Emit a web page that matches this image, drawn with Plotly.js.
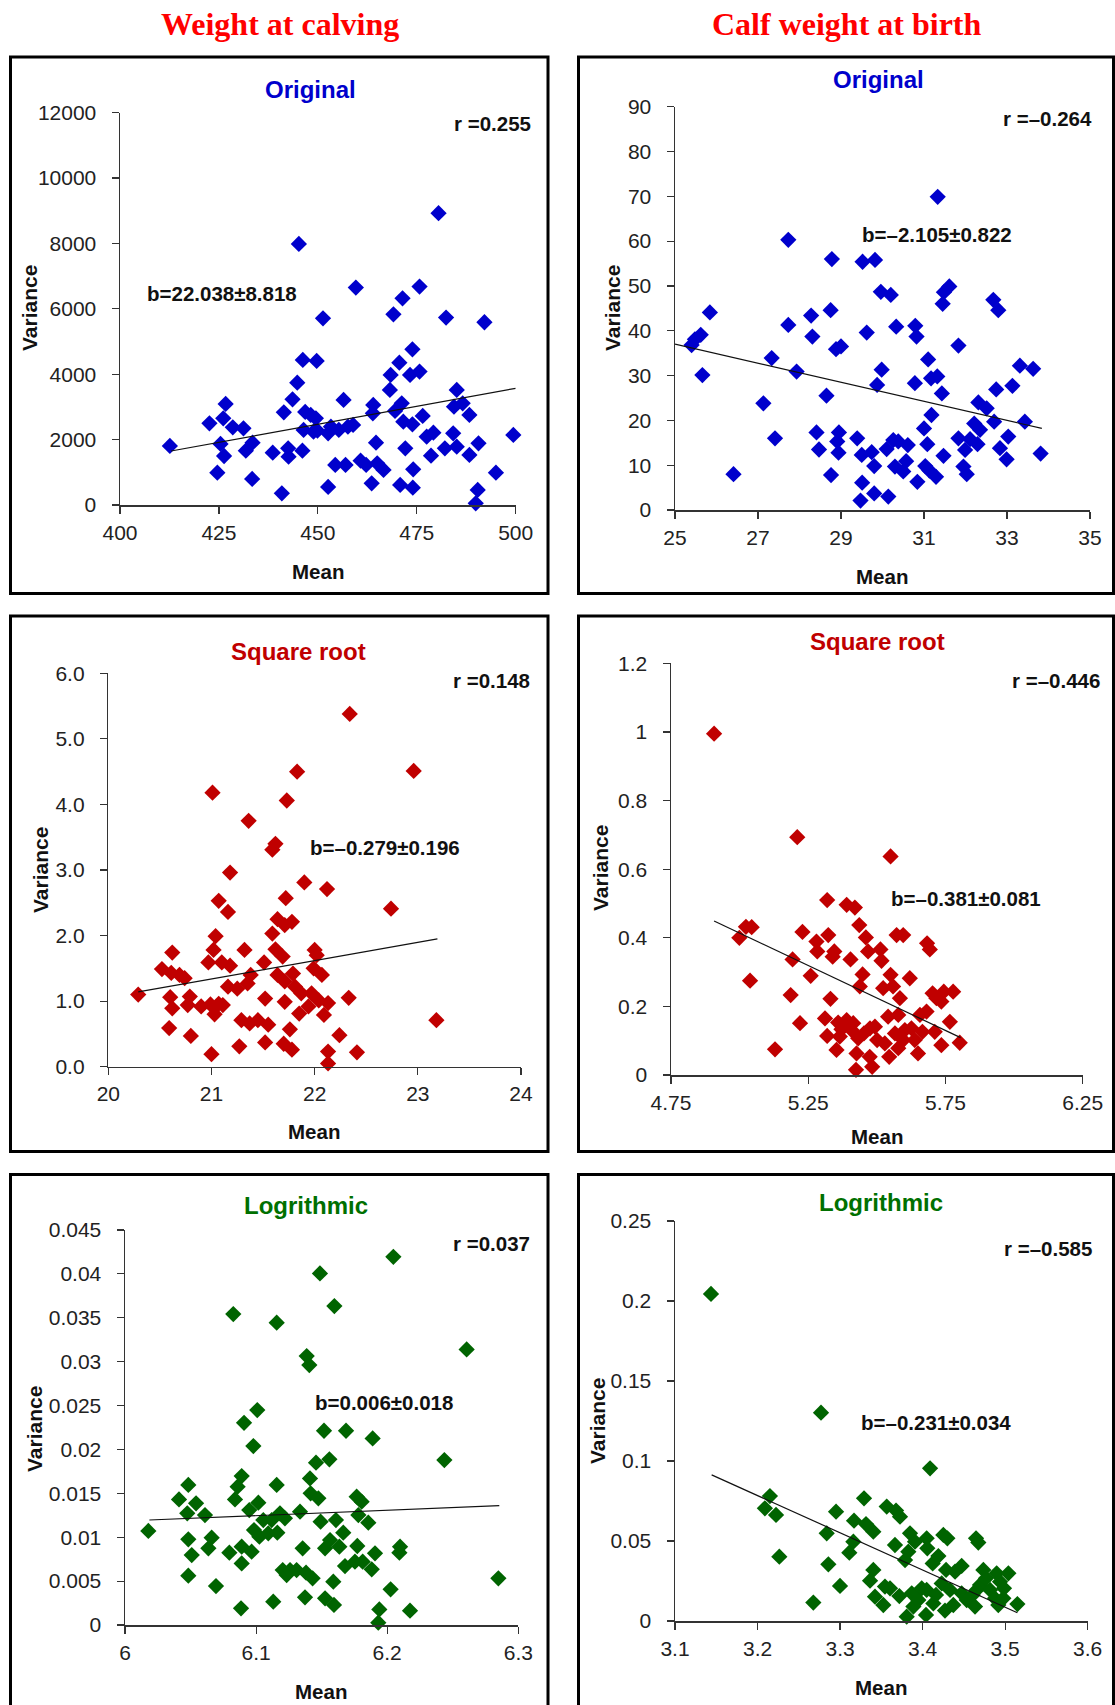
<!DOCTYPE html>
<html>
<head>
<meta charset="utf-8">
<script src="https://cdn.plot.ly/plotly-3.0.1.min.js"></script>
<style>html,body{margin:0;padding:0;background:#fff;}#chart{width:1115px;height:1705px;}</style>
</head>
<body>
<div id="chart"></div>
<script>
// ---------- DATA ----------
const columnTitles = ["Weight at calving", "Calf weight at birth"];
const panelTitles = ["Original", "Original", "Square root", "Square root", "Logrithmic", "Logrithmic"];
const rLabels = ["r =0.255", "r =\u20130.264", "r =0.148", "r =\u20130.446", "r =0.037", "r =\u20130.585"];
const bLabels = ["b=22.038\u00b18.818", "b=\u20132.105\u00b10.822", "b=\u20130.279\u00b10.196", "b=\u20130.381\u00b10.081", "b=0.006\u00b10.018", "b=\u20130.231\u00b10.034"];
const xTitle = "Mean";
const yTitle = "Variance";

// Panel 1: Weight at calving, original
const p1Mean = [412.6,422.6,424.6,425.4,426.3,426.7,426.1,428.5,431.2,431.8,433.5,433.4,438.6,440.9,441.4,442.5,442.6,443.6,444.8,445.2,446.1,446.2,446.8,446.4,448.2,449.7,449.5,448.9,449.9,451.3,452.6,452.6,453.3,454.4,455.3,456.5,457.0,457.6,458.9,459.6,460.8,462.2,463.6,464.0,463.9,464.7,465.0,466.6,468.2,468.4,469.1,469.5,470.8,470.6,471.2,471.4,471.6,472.1,473.3,473.9,473.9,474.1,474.0,475.7,475.7,476.5,477.5,478.6,479.2,480.5,482.4,482.1,484.2,484.4,485.1,485.1,486.6,488.3,488.3,490.6,490.4,489.9,492.1,495.0,499.4];
const p1Var = [1805,2499,989,1867,1499,3090,2652,2377,2346,1663,1907,796,1601,357,2836,1734,1479,3233,3743,7987,1663,4437,2846,2295,2754,4406,2652,2244,2275,5712,551,2193,2397,1224,2295,3213,1224,2397,2448,6650,1357,1224,663,3060,2805,1907,1275,1071,3519,3978,5834,2876,612,4355,3111,6324,2550,1734,3978,4763,2468,1091,530,4080,6681,2723,2091,1510,2213,8925,5732,1734,2193,3009,3519,1785,3111,2754,1530,1887,459,51,5590,989,2142];
const p1FitMean = [412.9, 500];
const p1FitVar = [1652, 3570];
const p1XTicks = [400, 425, 450, 475, 500];
const p1XText = ["400", "425", "450", "475", "500"];
const p1YTicks = [0, 2000, 4000, 6000, 8000, 10000, 12000];
const p1YText = ["0", "2000", "4000", "6000", "8000", "10000", "12000"];

// Panel 2: Calf weight at birth, original
const p2Mean = [25.40,25.48,25.62,25.66,25.84,26.41,27.13,27.33,27.41,27.73,27.73,27.93,28.28,28.31,28.41,28.47,28.65,28.75,28.78,28.76,28.88,29.00,28.95,28.91,28.94,29.39,29.50,29.52,29.51,29.47,29.62,29.74,29.80,29.82,29.80,29.87,29.98,29.96,30.10,30.14,30.20,30.26,30.30,30.33,30.38,30.50,30.57,30.61,30.78,30.79,30.82,30.84,31.00,31.03,31.08,31.10,31.13,31.17,31.18,31.33,31.32,31.29,31.43,31.45,31.48,31.61,31.47,31.83,31.83,31.95,32.03,31.99,32.11,32.21,32.29,32.31,32.35,32.51,32.69,32.67,32.79,32.74,32.83,32.99,33.03,33.13,33.31,33.43,33.63,33.81];
const p2Var = [36.8,38.1,39.1,30.1,44.1,8.0,23.8,33.9,16.0,60.3,41.3,30.9,43.4,38.7,17.3,13.5,25.5,44.6,56.0,7.8,35.9,36.5,17.3,15.3,12.8,16.0,12.3,55.4,6.1,2.1,39.6,12.9,9.8,55.8,3.7,27.9,31.3,48.7,13.6,3.0,48.0,15.6,9.7,40.9,15.3,8.6,10.9,14.5,28.3,41.1,38.7,6.3,18.2,9.8,14.7,33.6,8.8,29.4,21.2,69.9,29.8,7.4,26.0,46.0,48.6,49.9,12.1,36.7,16.0,9.7,8.0,13.4,15.8,19.3,14.7,24.0,17.9,22.7,19.7,46.9,44.6,26.9,13.8,11.3,16.4,27.7,32.2,19.7,31.5,12.6];
const p2FitMean = [25.0, 33.84];
const p2FitVar = [37.0, 18.2];
const p2XTicks = [25, 27, 29, 31, 33, 35];
const p2XText = ["25", "27", "29", "31", "33", "35"];
const p2YTicks = [0, 10, 20, 30, 40, 50, 60, 70, 80, 90];
const p2YText = ["0", "10", "20", "30", "40", "50", "60", "70", "80", "90"];

// Panel 3: Weight at calving, square root
const p3Mean = [20.29,20.52,20.59,20.60,20.62,20.61,20.62,20.69,20.74,20.77,20.79,20.80,20.90,20.97,20.99,21.00,21.01,21.02,21.04,21.03,21.07,21.07,21.10,21.11,21.16,21.18,21.18,21.16,21.25,21.27,21.29,21.32,21.35,21.36,21.37,21.38,21.45,21.52,21.52,21.51,21.55,21.59,21.62,21.59,21.62,21.64,21.64,21.69,21.71,21.71,21.70,21.71,21.73,21.72,21.76,21.78,21.78,21.79,21.81,21.83,21.85,21.87,21.90,21.94,21.97,21.99,22.00,22.02,22.04,22.07,22.09,22.12,22.13,22.13,22.13,22.24,22.33,22.34,22.41,22.74,22.96,23.18];
const p3Var = [1.10,1.49,0.59,1.06,1.74,1.43,0.89,1.40,1.35,0.94,1.07,0.47,0.92,1.59,0.95,0.19,4.18,1.78,1.99,0.80,0.96,2.53,1.59,0.94,2.36,2.96,1.54,1.22,1.19,0.31,0.71,1.78,1.27,3.75,0.66,1.40,0.71,0.37,1.04,1.59,0.64,3.31,3.40,2.03,1.79,2.25,1.40,1.68,0.99,1.30,0.35,2.16,4.06,2.57,0.57,2.21,0.26,1.42,1.22,4.50,0.81,1.12,2.81,0.92,1.12,1.50,1.78,1.70,1.01,1.40,0.79,2.71,0.97,0.23,0.05,0.48,1.05,5.38,0.22,2.41,4.51,0.71];
const p3FitMean = [20.29, 23.19];
const p3FitVar = [1.14, 1.95];
const p3XTicks = [20, 21, 22, 23, 24];
const p3XText = ["20", "21", "22", "23", "24"];
const p3YTicks = [0, 1, 2, 3, 4, 5, 6];
const p3YText = ["0.0", "1.0", "2.0", "3.0", "4.0", "5.0", "6.0"];

// Panel 4: Calf weight at birth, square root
const p4Mean = [4.907,4.999,5.023,5.044,5.038,5.129,5.186,5.193,5.210,5.220,5.229,5.259,5.280,5.283,5.311,5.319,5.319,5.323,5.331,5.339,5.345,5.353,5.359,5.371,5.390,5.404,5.408,5.420,5.424,5.426,5.432,5.436,5.438,5.448,5.453,5.460,5.468,5.475,5.483,5.493,5.501,5.513,5.517,5.523,5.529,5.541,5.545,5.550,5.550,5.559,5.566,5.572,5.578,5.578,5.584,5.596,5.596,5.620,5.626,5.638,5.650,5.657,5.666,5.681,5.683,5.693,5.703,5.711,5.717,5.735,5.735,5.744,5.766,5.778,5.802,5.390,5.414,5.365,5.474,5.602];
const p4Var = [0.995,0.400,0.432,0.431,0.275,0.075,0.233,0.337,0.693,0.151,0.417,0.289,0.389,0.360,0.165,0.114,0.510,0.408,0.222,0.345,0.360,0.073,0.153,0.133,0.496,0.337,0.131,0.488,0.015,0.063,0.107,0.437,0.258,0.293,0.121,0.401,0.360,0.136,0.024,0.141,0.102,0.366,0.333,0.253,0.092,0.170,0.053,0.637,0.292,0.258,0.121,0.408,0.175,0.078,0.224,0.408,0.102,0.282,0.136,0.102,0.063,0.175,0.126,0.185,0.384,0.366,0.238,0.126,0.224,0.214,0.087,0.243,0.155,0.243,0.094,0.160,0.151,0.112,0.053,0.131];
const p4FitMean = [4.907, 5.805];
const p4FitVar = [0.449, 0.109];
const p4XTicks = [4.75, 5.25, 5.75, 6.25];
const p4XText = ["4.75", "5.25", "5.75", "6.25"];
const p4YTicks = [0, 0.2, 0.4, 0.6, 0.8, 1, 1.2];
const p4YText = ["0", "0.2", "0.4", "0.6", "0.8", "1", "1.2"];

// Panel 5: Weight at calving, logarithmic
const p5Mean = [6.0178,6.0412,6.0483,6.0475,6.0483,6.0509,6.0483,6.0542,6.0610,6.0636,6.0661,6.0694,6.0796,6.0826,6.0839,6.0859,6.0890,6.0890,6.0890,6.0885,6.0908,6.0948,6.0966,6.0979,6.0984,6.1009,6.1017,6.1025,6.1055,6.1093,6.1119,6.1131,6.1157,6.1157,6.1162,6.1182,6.1203,6.1220,6.1233,6.1259,6.1309,6.1335,6.1355,6.1373,6.1386,6.1406,6.1381,6.1411,6.1416,6.1431,6.1457,6.1475,6.1487,6.1492,6.1518,6.1526,6.1526,6.1559,6.1564,6.1589,6.1594,6.1597,6.1609,6.1635,6.1665,6.1678,6.1686,6.1754,6.1767,6.1772,6.1780,6.1805,6.1813,6.1856,6.1882,6.1889,6.1907,6.1932,6.1940,6.2026,6.2047,6.2093,6.2098,6.2174,6.2436,6.2606,6.2848];
const p5Var = [0.01071,0.01431,0.01595,0.01272,0.00976,0.00797,0.00562,0.01386,0.01253,0.00873,0.00995,0.00444,0.00824,0.03542,0.01431,0.01576,0.01697,0.00892,0.00702,0.00190,0.02304,0.01310,0.00835,0.02039,0.01082,0.02449,0.01393,0.01006,0.01196,0.01044,0.01196,0.00266,0.01595,0.03444,0.01052,0.01272,0.00626,0.01215,0.00569,0.00626,0.00626,0.01291,0.00873,0.00315,0.03064,0.02961,0.00596,0.01670,0.01500,0.00532,0.01849,0.01443,0.04005,0.01177,0.02213,0.00873,0.00304,0.01887,0.00968,0.00494,0.00228,0.03633,0.01196,0.00892,0.01052,0.00672,0.02213,0.00721,0.01462,0.00900,0.01253,0.01405,0.00721,0.01166,0.00634,0.02126,0.00816,0.00027,0.00178,0.00406,0.04195,0.00824,0.00892,0.00163,0.01879,0.03140,0.00532];
const p5FitMean = [6.0186, 6.2855];
const p5FitVar = [0.01196, 0.01359];
const p5XTicks = [6, 6.1, 6.2, 6.3];
const p5XText = ["6", "6.1", "6.2", "6.3"];
const p5YTicks = [0, 0.005, 0.01, 0.015, 0.02, 0.025, 0.03, 0.035, 0.04, 0.045];
const p5YText = ["0", "0.005", "0.01", "0.015", "0.02", "0.025", "0.03", "0.035", "0.04", "0.045"];

// Panel 6: Calf weight at birth, logarithmic
const p6Mean = [3.1436,3.2089,3.2150,3.2224,3.2264,3.2676,3.2769,3.2838,3.2858,3.2951,3.2999,3.3112,3.3169,3.3161,3.3290,3.3314,3.3363,3.3403,3.3403,3.3423,3.3524,3.3544,3.3565,3.3605,3.3665,3.3678,3.3726,3.3718,3.3787,3.3807,3.3827,3.3847,3.3868,3.3888,3.3908,3.3948,3.3989,3.4041,3.4049,3.4057,3.4049,3.4090,3.4122,3.4130,3.4162,3.4191,3.4231,3.4251,3.4271,3.4284,3.4300,3.4332,3.4372,3.4393,3.4473,3.4473,3.4534,3.4607,3.4635,3.4647,3.4675,3.4695,3.4736,3.4768,3.4817,3.4877,3.4897,3.4917,3.4938,3.4986,3.5039,3.5148,3.4978,3.4655];
const p6Var = [0.2044,0.0704,0.0781,0.0663,0.0402,0.0115,0.1302,0.0548,0.0354,0.0683,0.0219,0.0427,0.0627,0.0496,0.0767,0.0606,0.0252,0.0558,0.0319,0.0152,0.0100,0.0215,0.0715,0.0204,0.0475,0.0690,0.0652,0.0156,0.0381,0.0027,0.0433,0.0548,0.0173,0.0090,0.0496,0.0131,0.0204,0.0038,0.0517,0.0454,0.0194,0.0954,0.0360,0.0110,0.0163,0.0406,0.0235,0.0538,0.0065,0.0319,0.0517,0.0194,0.0100,0.0308,0.0344,0.0173,0.0131,0.0163,0.0090,0.0517,0.0490,0.0225,0.0319,0.0267,0.0194,0.0142,0.0298,0.0100,0.0246,0.0204,0.0298,0.0106,0.0142,0.0194];
const p6FitMean = [3.1444, 3.5148];
const p6FitVar = [0.0913, 0.0052];
const p6XTicks = [3.1, 3.2, 3.3, 3.4, 3.5, 3.6];
const p6XText = ["3.1", "3.2", "3.3", "3.4", "3.5", "3.6"];
const p6YTicks = [0, 0.05, 0.1, 0.15, 0.2, 0.25];
const p6YText = ["0", "0.05", "0.1", "0.15", "0.2", "0.25"];

// ---------- STYLE / LAYOUT ----------
const W = 1115, H = 1705;
const NARROW = '"Liberation Sans Narrow", "Arial Narrow", "Liberation Sans", Arial, sans-serif';
const SERIF = '"Liberation Serif", "Times New Roman", serif';
const px = v => v / W;
const py = v => 1 - v / H;

const panels = [
  {mean: p1Mean, v: p1Var, fx: p1FitMean, fy: p1FitVar, xr: [400, 500], yr: [0, 12000], xt: p1XTicks, xtt: p1XText, yt: p1YTicks, ytt: p1YText,
   box: [120, 515.7, 112.7, 505], color: '#0000CC', titleColor: '#0000CC',
   title: [310, 90], r: [533, 123], b: [145, 294], xT: [318, 571], yT: [29, 308]},
  {mean: p2Mean, v: p2Var, fx: p2FitMean, fy: p2FitVar, xr: [25, 35], yr: [0, 90], xt: p2XTicks, xtt: p2XText, yt: p2YTicks, ytt: p2YText,
   box: [675, 1090, 106.7, 510], color: '#0000CC', titleColor: '#0000CC',
   title: [878, 79], r: [1094, 118], b: [860, 235], xT: [882, 576], yT: [612, 308]},
  {mean: p3Mean, v: p3Var, fx: p3FitMean, fy: p3FitVar, xr: [20, 24], yr: [0, 6], xt: p3XTicks, xtt: p3XText, yt: p3YTicks, ytt: p3YText,
   box: [108.3, 521, 673.3, 1066.7], color: '#C00000', titleColor: '#C00000',
   title: [298, 651], r: [532, 680], b: [308, 847], xT: [314, 1131], yT: [40, 870]},
  {mean: p4Mean, v: p4Var, fx: p4FitMean, fy: p4FitVar, xr: [4.75, 6.25], yr: [0, 1.2], xt: p4XTicks, xtt: p4XText, yt: p4YTicks, ytt: p4YText,
   box: [671, 1082.7, 663.3, 1075], color: '#C00000', titleColor: '#C00000',
   title: [877, 641], r: [1102, 680], b: [889, 898], xT: [877, 1136], yT: [601, 868]},
  {mean: p5Mean, v: p5Var, fx: p5FitMean, fy: p5FitVar, xr: [6, 6.3], yr: [0, 0.045], xt: p5XTicks, xtt: p5XText, yt: p5YTicks, ytt: p5YText,
   box: [125, 518.3, 1230, 1625], color: '#006400', titleColor: '#007000',
   title: [306, 1205], r: [532, 1243], b: [313, 1402], xT: [321, 1691], yT: [34, 1429]},
  {mean: p6Mean, v: p6Var, fx: p6FitMean, fy: p6FitVar, xr: [3.1, 3.6], yr: [0, 0.25], xt: p6XTicks, xtt: p6XText, yt: p6YTicks, ytt: p6YText,
   box: [675, 1087.7, 1221, 1621], color: '#006400', titleColor: '#007000',
   title: [881, 1202], r: [1094, 1248], b: [859, 1422], xT: [881, 1687], yT: [597, 1421]}
];

const data = [];
const layout = {
  width: W, height: H,
  margin: {l: 0, r: 0, t: 0, b: 0, pad: 0},
  paper_bgcolor: '#ffffff', plot_bgcolor: 'rgba(0,0,0,0)',
  showlegend: false,
  shapes: [], annotations: []
};

panels.forEach((p, i) => {
  const n = i + 1;
  const xa = 'x' + (n === 1 ? '' : n), ya = 'y' + (n === 1 ? '' : n);
  const xk = 'xaxis' + (n === 1 ? '' : n), yk = 'yaxis' + (n === 1 ? '' : n);
  data.push({
    type: 'scatter', mode: 'markers', x: p.mean, y: p.v, xaxis: xa, yaxis: ya,
    marker: {symbol: 'diamond', size: 12.5, color: p.color, line: {width: 0}},
    cliponaxis: false, hoverinfo: 'skip'
  });
  data.push({
    type: 'scatter', mode: 'lines', x: p.fx, y: p.fy, xaxis: xa, yaxis: ya,
    line: {color: '#111', width: 1.2}, cliponaxis: false, hoverinfo: 'skip'
  });
  const common = {
    showgrid: false, zeroline: false, showline: true, linecolor: '#333', linewidth: 1.5,
    ticks: 'outside', ticklen: 7, tickcolor: '#333', tickwidth: 1.2,
    tickfont: {family: NARROW, size: 21, color: '#222'}, tickmode: 'array', fixedrange: true
  };
  layout[xk] = Object.assign({}, common, {
    range: p.xr, domain: [px(p.box[0]), px(p.box[1])], anchor: ya,
    tickvals: p.xt, ticktext: p.xtt, ticklabelstandoff: 1
  });
  layout[yk] = Object.assign({}, common, {
    range: p.yr, domain: [py(p.box[3]), py(p.box[2])], anchor: xa,
    tickvals: p.yt, ticktext: p.ytt, ticklabelstandoff: 11
  });
  const ann = (txt, x, y, opts) => layout.annotations.push(Object.assign({
    text: txt, xref: 'paper', yref: 'paper', x: px(x), y: py(y), showarrow: false,
    yanchor: 'middle', xanchor: 'center'
  }, opts));
  ann('<b>' + panelTitles[i] + '</b>', p.title[0], p.title[1], {font: {family: NARROW, size: 24, color: p.titleColor}});
  ann('<b>' + rLabels[i] + '</b>', p.r[0], p.r[1], {xanchor: 'right', font: {family: NARROW, size: 20.5, color: '#111'}});
  ann('<b>' + bLabels[i] + '</b>', p.b[0], p.b[1], {xanchor: 'left', font: {family: NARROW, size: 20.5, color: '#111'}});
  ann('<b>' + xTitle + '</b>', p.xT[0], p.xT[1], {font: {family: NARROW, size: 20.5, color: '#111'}});
  ann('<b>' + yTitle + '</b>', p.yT[0], p.yT[1], {textangle: -90, font: {family: NARROW, size: 21, color: '#111'}});
});

// column headers
layout.annotations.push({text: '<b>' + columnTitles[0] + '</b>', xref: 'paper', yref: 'paper', x: px(280), y: py(24),
  showarrow: false, xanchor: 'center', yanchor: 'middle', font: {family: SERIF, size: 32, color: '#FF0000'}});
layout.annotations.push({text: '<b>' + columnTitles[1] + '</b>', xref: 'paper', yref: 'paper', x: px(847), y: py(24),
  showarrow: false, xanchor: 'center', yanchor: 'middle', font: {family: SERIF, size: 32, color: '#FF0000'}});

// panel frames
const frames = [[10.5, 548, 57, 593.5], [578.5, 1113.5, 57, 593.5], [10.5, 548, 616, 1151.5], [578.5, 1113.5, 616, 1151.5], [10.5, 548, 1174.5, 1720], [578.5, 1113.5, 1174.5, 1720]];
frames.forEach(f => layout.shapes.push({type: 'rect', xref: 'paper', yref: 'paper',
  x0: px(f[0]), x1: px(f[1]), y0: py(f[3]), y1: py(f[2]), line: {color: '#000', width: 3}, layer: 'above'}));

Plotly.newPlot('chart', data, layout, {staticPlot: true, displayModeBar: false});
</script>
</body>
</html>
